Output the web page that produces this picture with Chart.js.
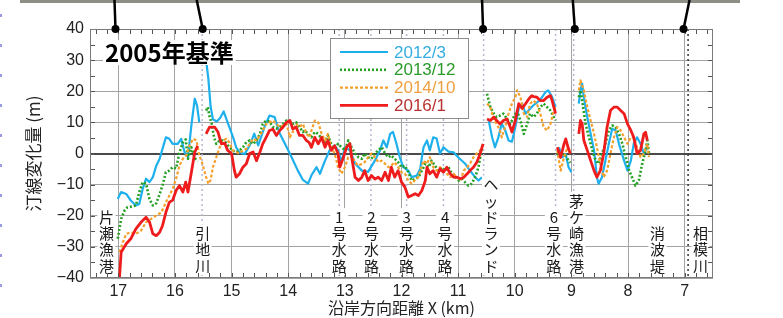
<!DOCTYPE html>
<html><head><meta charset="utf-8">
<script src="https://cdn.jsdelivr.net/npm/chart.js@4"></script>
<style>html,body{margin:0;padding:0;background:#fff;}canvas{display:block}</style>
</head><body>
<canvas id="c" width="783" height="318" style="width:783px;height:318px"></canvas>
<script>
// ---------- data ----------
const xTicks = [17,16,15,14,13,12,11,10,9,8,7];
const yTicks = [-40,-30,-20,-10,0,10,20,30,40];
const seriesNames = ['2012/3','2013/12','2014/10','2016/1'];

const s2012 = [[17.01,-14.6],[16.95,-12.4],[16.86,-13.0],[16.78,-15.1],[16.69,-16.7],[16.63,-16.2],[16.57,-11.4],[16.51,-8.1],[16.45,-9.2],[16.39,-7.6],[16.33,-3.9],[16.27,-1.7],[16.22,1.5],[16.16,5.2],[16.10,4.7],[16.04,3.1],[15.95,3.1],[15.89,4.7],[15.83,0.4],[15.77,-1.2],[15.71,9.0],[15.65,17.6],[15.61,15.4],[15.57,10.0],
[15.51,null],
[15.45,30.0],[15.41,24.0],[15.37,15.0],[15.33,11.0],[15.26,10.3],[15.20,11.5],[15.14,13.5],[15.09,11.0],[15.03,8.0],[14.97,5.0],[14.92,2.0],[14.86,0.4],[14.77,-0.2],[14.68,2.6],[14.60,6.4],[14.53,2.6],[14.42,8.5],[14.33,12.2],[14.24,11.7],[14.15,6.4],[14.06,3.2],[13.94,-1.2],[13.83,-5.5],[13.74,-8.5],[13.65,-9.7],[13.59,-7.0],[13.50,-4.4],[13.44,-6.5],[13.35,-2.3],[13.27,1.0],[13.18,2.6],[13.12,1.0],[13.06,-2.8],[13.00,2.0],[12.91,1.0],[12.82,-3.2],[12.70,-5.5],[12.59,-5.9],[12.47,-2.3],[12.38,1.0],[12.32,4.2],[12.26,2.0],[12.20,6.3],[12.15,6.9],[12.09,3.2],[12.03,-1.2],[11.97,-4.4],[11.88,-5.5],[11.82,-7.6],[11.73,-7.1],[11.67,-5.0],[11.63,0.0],[11.61,2.0],[11.55,4.2],[11.50,1.0],[11.44,5.2],[11.38,4.8],[11.32,0.0],[11.26,2.0],[11.17,0.6],[11.08,0.4],[11.00,-1.2],[10.88,-3.2],[10.79,-5.5],[10.70,-7.6],[10.64,-8.7],[10.58,-7.6],
[10.52,null],
[10.46,10.6],[10.40,5.2],[10.35,2.0],[10.29,5.2],[10.23,9.6],[10.17,7.5],[10.11,4.2],[10.05,3.8],[9.99,8.5],[9.93,14.5],[9.87,16.0],[9.81,12.8],[9.75,14.0],[9.67,15.5],[9.60,16.5],[9.52,18.0],[9.46,19.7],[9.41,20.3],[9.34,18.1],[9.28,14.9],
[9.265,null],
[9.22,2.0],[9.16,-1.2],[9.10,-0.2],[9.05,-4.4],[9.00,-6.0],
[8.93,null],
[8.87,16.0],[8.84,20.3],[8.81,22.4],[8.78,18.0],[8.72,11.7],[8.66,6.3],[8.60,1.0],[8.55,-7.6],[8.52,-9.7],[8.46,-7.6],[8.40,-2.3],[8.34,3.1],[8.28,7.9],[8.22,7.5],[8.16,3.1],[8.07,-2.3],[8.01,-5.5],[7.95,-2.3],[7.90,3.1],[7.84,5.2],[7.78,3.1],[7.72,0.0],[7.66,2.0]];

const s2013 = [[17.01,-27.4],[16.95,-21],[16.89,-18.3],[16.84,-17.3],[16.75,-17],[16.69,-16.7],[16.63,-12.4],[16.57,-9.2],[16.51,-9.7],[16.45,-14.6],[16.39,-16.7],[16.33,-16],[16.27,-13],[16.22,-10.3],[16.16,-6],[16.10,-5.5],[16.04,-4.4],[15.98,-4.8],[15.92,0.4],[15.86,3.5],[15.81,4.5],[15.77,-1.7],[15.71,2],[15.65,-1.5],[15.60,-2.5],
[15.52,null],
[15.45,13.8],[15.42,14.9],[15.39,12],[15.35,9.5],[15.31,5.2],[15.27,3.1],[15.21,4.2],[15.16,4.2],[15.10,3.5],[15.04,2],[14.98,1],[14.92,0.4],[14.86,1],[14.80,2],[14.74,3.6],[14.68,4.2],[14.62,3],[14.56,4.2],[14.50,6.3],[14.45,9.5],[14.39,10.6],[14.33,10.3],[14.27,8.5],[14.21,8],[14.15,8.5],[14.09,9.5],[14.03,10.6],[13.97,10],[13.92,9.5],[13.86,10],[13.80,8.5],[13.74,6.9],[13.71,7.4],[13.65,6.3],[13.59,5.2],[13.53,6.9],[13.47,6.3],[13.41,4.7],[13.35,3.6],[13.30,5.8],[13.24,3.1],[13.18,1.5],[13.12,3.1],[13.06,2],[13.00,1],[12.94,4.2],[12.88,2],[12.82,0],[12.76,-1.2],[12.70,-1.7],[12.65,0],[12.59,-1.2],[12.53,-1.7],[12.47,0],[12.41,1],[12.35,2],[12.29,0],[12.23,-1.2],[12.18,-0.6],[12.12,-1.7],[12.06,-2.8],[12.00,-4.4],[11.94,-3.9],[11.88,-6],[11.82,-8.7],[11.76,-8.2],[11.70,-7.6],[11.64,-5.5],[11.58,-3.3],[11.52,-4.4],[11.47,-2.3],[11.41,-3.9],[11.35,-5.5],[11.29,-4.4],[11.23,-5.5],[11.17,-4.4],[11.11,-6.5],[11.05,-7.6],[10.99,-8.7],[10.93,-8.2],[10.88,-9.2],[10.82,-10.3],[10.76,-9.7],[10.70,-7.6],[10.64,-4.4],[10.61,-1.2],[10.58,2],
[10.53,null],
[10.49,19.2],[10.46,17],[10.43,14.9],[10.37,12.8],[10.32,11.7],[10.26,12.2],[10.20,12.8],[10.14,11.2],[10.08,9.5],[10.02,11.7],[9.96,13.8],[9.90,10.6],[9.84,6.3],[9.78,9.5],[9.73,12.8],[9.67,11.7],[9.61,12.8],[9.55,14.9],[9.49,16],[9.43,14.9],[9.37,13.8],[9.31,11.7],[9.28,10.6],
[9.265,null],
[9.25,0],[9.19,-1.2],[9.13,0],[9.07,-1.7],[9.02,-3],
[8.93,null],
[8.87,18.1],[8.84,20.3],[8.81,17],[8.75,9.5],[8.69,5.2],[8.63,1],[8.57,-2.3],[8.52,-3.3],[8.46,0],[8.40,3.1],[8.34,7.4],[8.28,9],[8.22,8.5],[8.16,6.3],[8.10,3.1],[8.04,-1.2],[7.98,-5.5],[7.93,-7.6],[7.87,-10.3],[7.81,-8.7],[7.75,-3.3],[7.69,1],[7.66,4.2],[7.63,0]];

const s2014 = [[16.98,-31.7],[16.92,-28.5],[16.86,-25.8],[16.78,-25.3],[16.69,-25.8],[16.60,-24.8],[16.51,-22.1],[16.42,-21],[16.33,-19.9],[16.24,-18.9],[16.16,-15.7],[16.10,-13.5],[16.04,-11.4],[15.98,-8.1],[15.92,-3.9],[15.86,-1.7],[15.80,-0.6],[15.74,2.6],[15.68,4.7],[15.62,4.2],[15.57,-0.6],[15.52,-3],[15.46,-7],[15.41,-9.7],[15.37,-8.5],[15.33,-4.4],[15.27,-1.2],[15.21,2],[15.15,4.2],[15.09,4.7],[15.04,3.6],[14.98,1],[14.92,0.4],[14.86,0],[14.80,1],[14.74,1.5],[14.68,3.1],[14.62,4.7],[14.56,4.2],[14.50,5.8],[14.45,7.4],[14.39,9.5],[14.33,10],[14.27,10.6],[14.21,9.5],[14.15,8.5],[14.09,9],[14.03,9.5],[13.97,5.2],[13.92,6.9],[13.86,9.5],[13.80,8.5],[13.74,9.5],[13.68,6.3],[13.62,5.2],[13.59,7.4],[13.53,10.6],[13.47,10],[13.41,6.3],[13.35,4.2],[13.30,6.3],[13.24,2],[13.18,0],[13.12,-4.4],[13.06,-6.5],[13.00,-4.4],[12.94,-1.2],[12.88,-0.6],[12.82,-2.8],[12.76,-3.9],[12.70,-3.3],[12.65,-2.8],[12.59,-1.2],[12.53,0],[12.47,-1.2],[12.41,-2.8],[12.35,-2.3],[12.29,-3.3],[12.23,-4.4],[12.18,-3.9],[12.12,-2.8],[12.06,-4.4],[12.00,-6],[11.94,-6.5],[11.88,-8.7],[11.82,-9.7],[11.76,-8.5],[11.70,-7.5],[11.67,-5.5],[11.61,-2.3],[11.55,-3.3],[11.50,-1.2],[11.44,-4.4],[11.38,-5.5],[11.32,-4.4],[11.26,-5.5],[11.20,-6.5],[11.14,-7.6],[11.08,-6.5],[11.02,-7.6],[10.96,-8.7],[10.90,-5.5],[10.84,-4.4],[10.79,-3.3],[10.73,-1.2],[10.67,0],[10.61,1],[10.58,2],
[10.53,null],
[10.49,16],[10.43,14.9],[10.37,10.6],[10.32,9.5],[10.26,7.4],[10.23,5.2],[10.17,8.5],[10.11,12.8],[10.05,16],[9.99,18.1],[9.96,20.3],[9.90,18.1],[9.84,12.8],[9.78,11.7],[9.73,16],[9.67,17],[9.61,16],[9.55,12.8],[9.49,8.5],[9.43,7.4],[9.37,9.5],[9.31,13.8],[9.28,14.9],
[9.265,null],
[9.25,1],[9.19,-5.5],[9.13,-1.2],[9.07,2],[9.02,0],
[8.93,null],
[8.87,20.3],[8.84,23.5],[8.78,20.3],[8.72,14.9],[8.66,10.6],[8.60,6.3],[8.55,2],[8.49,-3.3],[8.43,-7.6],[8.37,-5.5],[8.31,0],[8.25,5.2],[8.19,8.5],[8.13,7.4],[8.07,5.2],[8.01,3.1],[7.95,5.2],[7.90,5.2],[7.84,2],[7.78,-1.2],[7.72,0],[7.66,3.1],[7.63,-1.2]];

const s2016 = [[16.98,-40],[16.95,-31.7],[16.86,-29],[16.78,-27.4],[16.69,-24.2],[16.60,-22.1],[16.51,-20.5],[16.45,-22],[16.39,-25.8],[16.33,-26.4],[16.27,-25.3],[16.22,-23.2],[16.16,-18.9],[16.10,-15.7],[16.04,-15],[15.98,-11.9],[15.92,-10.3],[15.86,-12.4],[15.81,-9.2],[15.77,-12.4],[15.71,-6],[15.65,0.4],[15.60,2.5],
[15.52,null],
[15.45,6.3],[15.39,8.5],[15.30,8.5],[15.24,6.9],[15.18,3.1],[15.12,3.3],[15.07,1],[15.00,0],[14.95,-5.5],[14.92,-7.6],[14.86,-6.5],[14.80,-4.4],[14.74,-3.3],[14.68,0],[14.62,0.5],[14.56,-2.3],[14.50,0.5],[14.45,3.1],[14.39,5.2],[14.33,7.4],[14.27,7.8],[14.21,5.8],[14.15,7.4],[14.09,8.5],[14.03,10],[13.97,10.6],[13.92,7.9],[13.86,8.5],[13.80,5.8],[13.74,5.8],[13.68,4.2],[13.63,3.5],[13.59,2],[13.53,5.2],[13.47,3.1],[13.41,5.2],[13.35,2],[13.30,4.2],[13.24,1],[13.18,2.5],[13.12,0],[13.09,-4.4],[13.03,-1.5],[12.97,2],[12.91,3.1],[12.88,-1.2],[12.82,-7.6],[12.76,-8.7],[12.70,-7.6],[12.65,-5.5],[12.59,-8.7],[12.53,-7.1],[12.47,-8.2],[12.41,-7.6],[12.35,-8.7],[12.29,-6],[12.23,-8.7],[12.18,-4.4],[12.12,-7.6],[12.06,-5.5],[12.00,-9.2],[11.94,-10.8],[11.88,-14],[11.82,-13.5],[11.76,-12.9],[11.70,-13.5],[11.64,-11.9],[11.58,-8.7],[11.55,-4.4],[11.50,-6.5],[11.44,-5.5],[11.38,-7.6],[11.32,-4.9],[11.26,-6],[11.20,-4.4],[11.14,-6.5],[11.08,-7.6],[11.02,-7.6],[10.96,-8.1],[10.90,-7.6],[10.84,-6.5],[10.79,-5.5],[10.73,-4.4],[10.67,-2.8],[10.61,0],[10.56,3.1],
[10.52,null],
[10.49,11.1],[10.43,10.6],[10.37,11.7],[10.32,10.6],[10.26,9.5],[10.20,10.6],[10.14,11.1],[10.08,8.5],[10.05,6.9],[9.99,10.6],[9.93,16],[9.87,14.5],[9.81,16],[9.75,17.6],[9.70,18.6],[9.67,18.3],[9.61,18.1],[9.55,17],[9.49,17],[9.43,18.1],[9.37,18.6],[9.34,17],[9.31,14.9],[9.28,12.8],
[9.265,null],
[9.25,2],[9.19,-1.2],[9.13,3.1],[9.10,4.7],[9.06,2],[9.02,0],
[8.93,null],
[8.87,6.3],[8.84,10.6],[8.81,9.5],[8.78,4.2],[8.72,1],[8.66,-2.3],[8.60,-5.5],[8.55,-7.6],[8.49,-5.5],[8.43,0],[8.37,8.5],[8.31,13.8],[8.25,14.9],[8.19,14.9],[8.13,13.8],[8.07,12.8],[8.01,9.5],[7.95,7.4],[7.90,5.2],[7.84,0],[7.78,1],[7.72,6.3],[7.69,6.8],[7.66,4.2]];

// places along the coast (km)
const placeNames = ['片瀬漁港','引地川','1号水路','2号水路','3号水路','4号水路','ヘッドランド','6号水路','茅ケ崎漁港','消波堤','相模川'];
const placeKm    = [17.21,15.51,13.10,12.53,11.91,11.23,10.42,9.31,8.91,7.48,6.72];
const structLineKm = [15.52,13.10,12.54,11.91,11.26,10.55,9.28,8.96];
const riverLineKm  = [6.94];
const photoMarkKm  = [17.05,15.51,10.56,8.94,7.02];
const photoMarkLean = [-1,-6,-1,-2,6];

const xTitle = '沿岸方向距離 X (km)';
const yTitle = '汀線変化量 (m)';
const baseNote = '2005年基準';

// ---------- styles ----------
const lineColors = ['#1eb0ec','#25a025','#f5a02c','#ee1c1c'];
const textColors = ['#35ade2','#2a9a2a','#eea040','#b83232'];
const lineWidths = [2.2, 2.6, 2.2, 2.8];
const lineDashes = [[], [2,2], [3,2], []];
const drawOrder  = [3, 2, 1, 0];
const allSeries = [s2012, s2013, s2014, s2016];

const JP = "'Noto Sans CJK JP', sans-serif";
const LAT = "'Liberation Sans', 'DejaVu Sans', sans-serif";

function seg(ctx, x1, y1, x2, y2) { ctx.beginPath(); ctx.moveTo(x1, y1); ctx.lineTo(x2, y2); ctx.stroke(); }

const decor = {
  id: 'decor',
  beforeDatasetsDraw(chart) {
    const { ctx, chartArea: a, scales: { x } } = chart;
    ctx.save();
    ctx.lineWidth = 1.5;
    ctx.setLineDash([2, 3]);
    ctx.strokeStyle = '#b6b6d0';
    structLineKm.forEach(k => { const px = x.getPixelForValue(k); seg(ctx, px, a.top, px, a.bottom); });
    ctx.strokeStyle = '#333';
    riverLineKm.forEach(k => { const px = x.getPixelForValue(k); seg(ctx, px, a.top, px, a.bottom); });
    ctx.restore();
  },
  afterDatasetsDraw(chart) {
    const { ctx, chartArea: a, scales: { x, y } } = chart;
    ctx.save();
    // place labels (vertical)
    ctx.font = '15px ' + JP;
    ctx.textAlign = 'center';
    ctx.textBaseline = 'middle';
    placeNames.forEach((name, i) => {
      const chars = Array.from(name);
      const px = x.getPixelForValue(placeKm[i]);
      const step = 16.3;
      const bottom = a.bottom - 12;
      const top = bottom - (chars.length - 1) * step;
      ctx.fillStyle = '#fff';
      ctx.fillRect(px - 9, top - 9, 18, bottom - top + 18);
      ctx.fillStyle = '#1a1a1a';
      chars.forEach((ch, j) => ctx.fillText(ch, px, top + j * step));
    });
    // base note
    ctx.font = 'bold 24px ' + JP;
    ctx.textAlign = 'left';
    const w = ctx.measureText(baseNote).width;
    ctx.fillStyle = '#fff';
    ctx.fillRect(103, 40, w + 4, 25);
    ctx.fillStyle = '#000';
    ctx.fillText(baseNote, 105, 53);
    // minor ticks
    ctx.strokeStyle = '#555';
    ctx.lineWidth = 1;
    for (let v = 66; v <= 174; v += 2) {
      const px = Math.round(x.getPixelForValue(v / 10)) + 0.5;
      seg(ctx, px, a.bottom, px, a.bottom - 5);
      seg(ctx, px, a.top, px, a.top + 5);
    }
    for (let v = -35; v <= 35; v += 5) {
      const py = Math.round(y.getPixelForValue(v)) + 0.5;
      seg(ctx, a.left, py, a.left + 5, py);
      seg(ctx, a.right, py, a.right - 5, py);
    }
    // frame
    ctx.strokeStyle = '#7a7a7a';
    ctx.strokeRect(a.left + 0.5, a.top + 0.5, a.right - a.left - 1, a.bottom - a.top - 1);
    // legend
    const lx = 330, ly = 38;
    ctx.fillStyle = '#fff';
    ctx.fillRect(lx, ly, 138, 80);
    ctx.strokeStyle = '#8c8c8c';
    ctx.lineWidth = 1;
    ctx.strokeRect(lx + 0.5, ly + 0.5, 138, 80);
    ctx.font = '17px ' + LAT;
    ctx.textBaseline = 'middle';
    seriesNames.forEach((nm, i) => {
      const yy = ly + 14 + i * 17.8;
      ctx.strokeStyle = lineColors[i];
      ctx.lineWidth = lineWidths[i];
      ctx.setLineDash(lineDashes[i]);
      seg(ctx, lx + 10, yy, lx + 58, yy);
      ctx.setLineDash([]);
      ctx.fillStyle = textColors[i];
      ctx.fillText(nm, lx + 64, yy + 1);
    });
    // photo strip and pointer lines
    ctx.fillStyle = '#8e8e86';
    ctx.fillRect(20, 0, 720, 3);
    ctx.strokeStyle = '#000';
    ctx.fillStyle = '#000';
    ctx.lineWidth = 2.5;
    photoMarkKm.forEach((k, i) => {
      const px = x.getPixelForValue(k);
      seg(ctx, px + photoMarkLean[i], 0, px, a.top);
      ctx.beginPath(); ctx.arc(px, a.top, 4, 0, Math.PI * 2); ctx.fill();
    });
    // left page marks
    ctx.fillStyle = '#9a9ae2';
    for (let yy = 15; yy <= 290; yy += 30) ctx.fillRect(0, yy - 1, 2, 3);
    ctx.restore();
  }
};

const datasets = allSeries.map((s, i) => ({
  label: seriesNames[i],
  data: s.map(([px, py]) => ({ x: px, y: py })),
  borderColor: lineColors[i],
  borderWidth: lineWidths[i],
  borderDash: lineDashes[i],
  pointRadius: 0,
  tension: 0,
  spanGaps: false,
  order: drawOrder[i],
  borderJoinStyle: 'round'
}));

new Chart(document.getElementById('c'), {
  type: 'line',
  data: { datasets },
  options: {
    responsive: false,
    animation: false,
    layout: { padding: { top: 29, right: 70, bottom: 0, left: 0 } },
    plugins: { legend: { display: false }, tooltip: { enabled: false } },
    scales: {
      x: {
        type: 'linear', reverse: true, min: 6.5, max: 17.5,
        afterBuildTicks: s => { s.ticks = xTicks.map(v => ({ value: v })); },
        afterFit: s => { s.height = 40; },
        grid: { color: '#a3a3a3', lineWidth: 1, drawTicks: false },
        border: { display: false },
        ticks: { padding: 4, color: '#222', font: { family: LAT, size: 16 }, maxRotation: 0, autoSkip: false },
        title: { display: true, text: xTitle, color: '#222', font: { family: JP, size: 16 }, padding: { top: 0, bottom: 0 } }
      },
      y: {
        type: 'linear', min: -40, max: 40,
        afterBuildTicks: s => { s.ticks = yTicks.map(v => ({ value: v })); },
        afterFit: s => { s.width = 90; },
        grid: {
          color: c => (c.tick && c.tick.value === 0) ? '#4a4a4a' : '#a3a3a3',
          lineWidth: c => (c.tick && c.tick.value === 0) ? 2 : 1,
          drawTicks: false
        },
        border: { display: false },
        ticks: { padding: 6, color: '#222', font: { family: LAT, size: 16 }, callback: v => v < 0 ? '\u2212' + Math.abs(v) : String(v) },
        title: { display: true, text: yTitle, color: '#222', font: { family: JP, size: 17 }, padding: { top: 23, bottom: 0 } }
      }
    }
  },
  plugins: [decor]
});
</script>
</body></html>
